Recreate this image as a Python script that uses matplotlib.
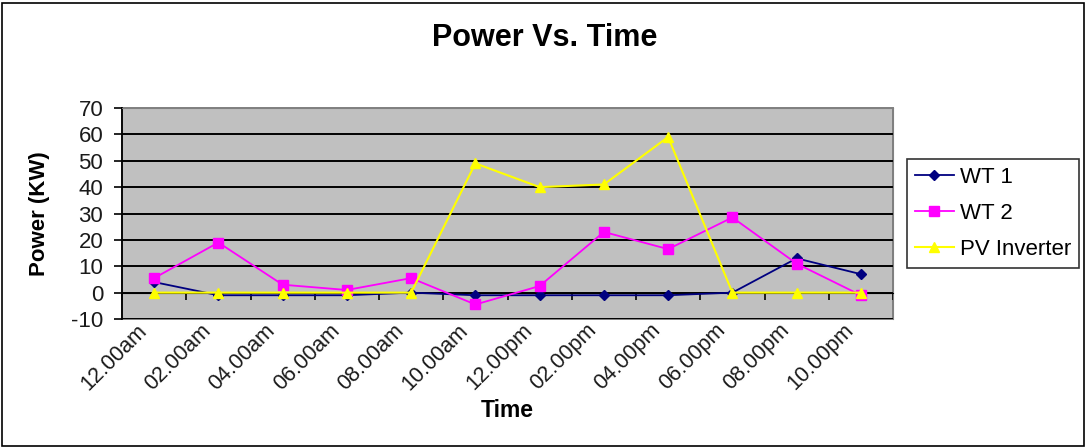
import matplotlib
matplotlib.use("Agg")
import matplotlib.pyplot as plt
import matplotlib.transforms as mtransforms
from matplotlib.patches import Rectangle
import numpy as np

plt.rcParams['font.family'] = ['Liberation Sans', 'DejaVu Sans']
plt.rcParams['axes.unicode_minus'] = False

times = ["12.00am", "02.00am", "04.00am", "06.00am", "08.00am", "10.00am",
         "12.00pm", "02.00pm", "04.00pm", "06.00pm", "08.00pm", "10.00pm"]
wt1 = [4, -1, -1, -1, 0, -1, -1, -1, -1, 0, 13, 7]
wt2 = [5.5, 19, 3, 1, 5.5, -4.5, 2.5, 23, 16.5, 28.5, 11, -1]
pv = [0, 0, 0, 0, 0, 49, 40, 41, 59, 0, 0, 0]
yticks = [-10, 0, 10, 20, 30, 40, 50, 60, 70]

W, H = 1087, 448
fig = plt.figure(figsize=(W / 100, H / 100), dpi=100)
fig.patch.set_facecolor('white')

ax = fig.add_axes([122 / W, 1 - 319 / H, (893 - 122) / W, (319 - 108) / H])
ax.set_facecolor('#C0C0C0')
x = np.arange(len(times))

ax.plot(x, wt1, color='#000080', marker='D', markersize=5, lw=1.3, label='WT 1', zorder=3)
ax.plot(x, wt2, color='#FF00FF', marker='s', markersize=6.5, lw=1.3, label='WT 2', zorder=4)
ax.plot(x, pv, color='#FFFF00', marker='^', markersize=7.5, lw=1.5, label='PV Inverter', zorder=5)

ax.set_xlim(-0.5, len(times) - 0.5)
ax.set_ylim(min(yticks), max(yticks))
ax.set_yticks(yticks)
ax.yaxis.grid(True, color='black', lw=1.4)
ax.set_axisbelow(True)
ax.tick_params(axis='y', direction='out', length=6, width=1.2, labelsize=16,
               pad=7.5, labelcolor='#1a1a1a')

# x axis crossing at 0 with ticks between categories
ax.spines['bottom'].set_position(('data', 0))
ax.spines['bottom'].set_color('black')
ax.set_xticks(np.arange(len(times) + 1) - 0.5)
ax.set_xticklabels([])
ax.tick_params(axis='x', direction='out', length=5, width=1.2)
for s in ['top', 'right']:
    ax.spines[s].set_color('#808080')
ax.spines['left'].set_color('black')
ax.spines['left'].set_linewidth(1.3)
ax.add_patch(Rectangle((0, 0), 1, 1, transform=ax.transAxes, fill=False,
                       edgecolor='#808080', lw=1.4, zorder=0.5, clip_on=False))

trans = mtransforms.offset_copy(ax.get_xaxis_transform(), fig=fig, x=-18, y=-1,
                                units='dots')
for i, t in enumerate(times):
    ax.text(i, 0, t, transform=trans, rotation=45, ha='right', va='top',
            rotation_mode='anchor', fontsize=15.5, color='#1a1a1a')

fig.text(545 / W, 1 - 38 / H, 'Power Vs. Time', ha='center', va='center',
         fontsize=22, fontweight='bold')
fig.text(39 / W, 1 - 214 / H, 'Power (KW)', ha='center', va='center',
         rotation=90, fontsize=16, fontweight='bold')
fig.text(507 / W, 1 - 410 / H, 'Time', ha='center', va='center',
         fontsize=16.5, fontweight='bold')

leg = fig.legend(loc='upper left', bbox_to_anchor=(907 / W, 1 - 159 / H),
                 frameon=True, fancybox=False, fontsize=16, handlelength=1.75,
                 borderpad=0.35, labelspacing=0.68, handletextpad=0.3,
                 borderaxespad=0)
leg.get_frame().set_edgecolor('black')
leg.get_frame().set_linewidth(1.2)

fig.add_artist(Rectangle((2 / W, 2 / H), (W - 5) / W, (H - 5) / H,
                         transform=fig.transFigure, fill=False,
                         edgecolor='black', lw=1.2))

fig.savefig('out.png', dpi=100)
